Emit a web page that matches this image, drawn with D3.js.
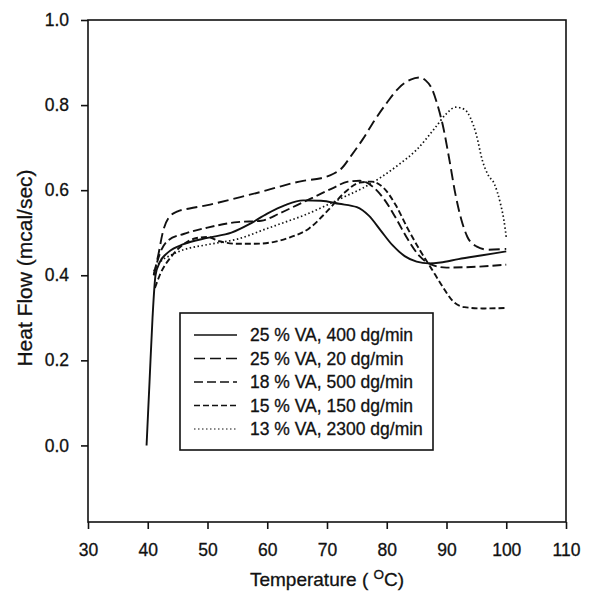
<!DOCTYPE html>
<html><head><meta charset="utf-8">
<script src="https://cdn.jsdelivr.net/npm/d3@7"></script>
<style>body{margin:0;background:#fff}svg{display:block}text{font-family:"Liberation Sans",Arial,sans-serif;fill:#111}</style>
</head><body><svg id="c" width="613" height="594"></svg>
<script>
const xTicks=[30,40,50,60,70,80,90,100,110];
const yTicks=[0.0,0.2,0.4,0.6,0.8,1.0];
const seriesNames=["25 % VA, 400 dg/min","25 % VA, 20 dg/min","18 % VA, 500 dg/min","15 % VA, 150 dg/min","13 % VA, 2300 dg/min"];
const solid400=[[39.8,0],[40.3,0.15],[40.8,0.30],[41.3,0.40],[42,0.43],[43.5,0.455],[46,0.473],[50,0.488],[54,0.50],[57,0.52],[60,0.545],[63,0.565],[66,0.576],[69,0.575],[72,0.568],[75,0.56],[77,0.54],[79,0.505],[81,0.47],[83,0.445],[85,0.432],[87,0.428],[89,0.43],[92,0.438],[96,0.447],[100,0.456]];
const dash20=[[41,0.40],[41.8,0.45],[42.5,0.50],[43.5,0.535],[45,0.55],[47,0.557],[50,0.565],[55,0.582],[60,0.60],[63,0.612],[66,0.622],[69,0.628],[71,0.638],[72.5,0.652],[74,0.68],[76,0.72],[78,0.765],[80,0.805],[82,0.84],[84,0.86],[85.5,0.865],[86.5,0.858],[87.5,0.84],[88.5,0.80],[89.5,0.745],[90.5,0.67],[91.5,0.59],[92.5,0.53],[93.5,0.49],[95,0.468],[97,0.46],[100,0.462]];
const dash500=[[41,0.40],[42,0.45],[43.5,0.483],[46,0.497],[50,0.512],[55,0.525],[59,0.528],[62,0.545],[65,0.565],[68,0.585],[71,0.605],[73.5,0.62],[75.5,0.622],[77.5,0.61],[79.5,0.58],[81.5,0.535],[83.5,0.485],[85.5,0.445],[87.5,0.425],[90,0.418],[95,0.42],[100,0.425]];
const dash150=[[41.2,0.37],[42,0.40],[44,0.445],[46,0.473],[48,0.487],[50,0.49],[52,0.48],[55,0.474],[58,0.474],[61,0.478],[64,0.49],[67,0.51],[70,0.55],[73,0.595],[75.5,0.618],[77.5,0.62],[79.5,0.605],[81.5,0.565],[83.5,0.51],[85.5,0.46],[87.5,0.415],[89.5,0.37],[91,0.34],[93,0.325],[96,0.322],[100,0.323]];
const dot2300=[[41,0.41],[42,0.43],[44,0.448],[46,0.46],[50,0.472],[55,0.485],[60,0.51],[63,0.525],[66,0.54],[70,0.565],[73,0.585],[76,0.605],[79,0.63],[82,0.66],[85,0.695],[88,0.745],[90,0.78],[91.5,0.795],[93,0.79],[94,0.77],[95,0.73],[96,0.67],[97,0.635],[98,0.615],[99,0.57],[99.6,0.53],[100,0.49]];
const seriesData=[solid400,dash20,dash500,dash150,dot2300];
const dashes=[null,"11,5","9,4,9,4","6,3","1.5,2.5"];

const svg=d3.select("#c");
const L=88,R=566,T=20,B=522;
const x=d3.scaleLinear().domain([30,110]).range([L,R]);
const y=d3.scaleLinear().domain([-0.18,1.0]).range([B,T]);

svg.append("rect").attr("x",L).attr("y",T).attr("width",R-L).attr("height",B-T).attr("fill","none").attr("stroke","#111").attr("stroke-width",1.6);
const xa=svg.append("g").attr("transform",`translate(0,${B})`).call(d3.axisBottom(x).tickValues(xTicks).tickSize(7).tickPadding(15).tickFormat(d3.format("d")));
const ya=svg.append("g").attr("transform",`translate(${L},0)`).call(d3.axisLeft(y).tickValues(yTicks).tickSize(7).tickPadding(12).tickFormat(d3.format(".1f")));
[xa,ya].forEach(a=>{a.select(".domain").remove();a.selectAll("line").attr("stroke","#111").attr("stroke-width",1.6);a.selectAll("text").attr("font-size",17.5).attr("fill","#111").attr("stroke","#111").attr("stroke-width",0.3).style("font-family","Liberation Sans, Arial, sans-serif");});

const line=d3.line().x(d=>x(d[0])).y(d=>y(d[1])).curve(d3.curveMonotoneX);
seriesData.forEach((s,i)=>{
  svg.append("path").datum(s).attr("d",line).attr("fill","none").attr("stroke","#111")
   .attr("stroke-width",i===4?1.7:1.9).attr("stroke-dasharray",dashes[i]);
});

// legend
const lg=svg.append("g");
lg.append("rect").attr("x",180).attr("y",313).attr("width",253).attr("height",137).attr("fill","#fff").attr("stroke","#111").attr("stroke-width",1.6);
seriesNames.forEach((n,i)=>{
  const yy=335+i*23.5;
  lg.append("line").attr("x1",194).attr("x2",237).attr("y1",yy).attr("y2",yy).attr("stroke","#111").attr("stroke-width",i===4?1.2:1.5).attr("stroke-dasharray",dashes[i]);
  lg.append("text").attr("x",250).attr("y",yy+6).attr("font-size",17.5).attr("stroke","#111").attr("stroke-width",0.3).text(n);
});

svg.append("text").attr("transform","translate(32,268) rotate(-90)").attr("text-anchor","middle").attr("font-size",21).attr("stroke","#111").attr("stroke-width",0.3).text("Heat Flow (mcal/sec)");
const xl=svg.append("text").attr("x",327).attr("y",586).attr("text-anchor","middle").attr("font-size",19).attr("stroke","#111").attr("stroke-width",0.3);
xl.append("tspan").text("Temperature ( ");
xl.append("tspan").attr("dy",-7).attr("font-size",13.5).text("O");
xl.append("tspan").attr("dy",7).text("C)");
</script></body></html>
